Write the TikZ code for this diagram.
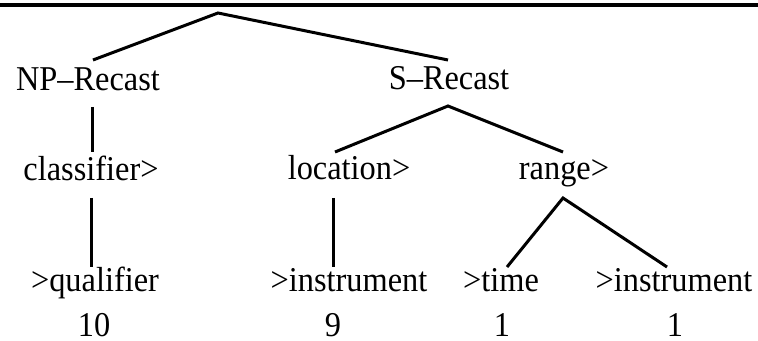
\documentclass[tikz,border=0pt]{standalone}
\usepackage{fontspec}
\setmainfont[FakeStretch=0.93]{Liberation Serif}
\usepackage{tikz}
\usetikzlibrary{positioning}
\tikzset{
  lab/.style={anchor=base,inner sep=0pt,font=\fontsize{17.4}{20}\selectfont},
  count/.style={lab},
  edge/.style={line width=1.5pt,line cap=butt},
  rule/.style={line width=2pt}
}
\begin{document}
\begin{tikzpicture}[x=0.5pt,y=-0.5pt]
  \useasboundingbox (0,0) rectangle (758,341);
  % top rule
  \coordinate (ruleL) at (0,5);
  \coordinate (ruleR) at (758,5);
  \draw[rule] (ruleL)--(ruleR);
  % labels
  \node[lab] (np) at (88,91) {NP--Recast};
  \node[lab] (s) at (449,90) {S--Recast};
  \node[lab] (cls) at (91,181) {classifier>};
  \node[lab] (loc) at (349,180) {location>};
  \node[lab] (rng) at (564,180) {range>};
  \node[lab] (qual) at (95,291) {>qualifier};
  \node[lab] (ins1) at (349,291) {>instrument};
  \node[lab] (time) at (501,291) {>time};
  \node[lab] (ins2) at (674,291) {>instrument};
  \node[count] (n1) at (94,336) {10};
  \node[count] (n2) at (333,336) {9};
  \node[count] (n3) at (502,336) {1};
  \node[count] (n4) at (675,336) {1};
  % branch points
  \coordinate (root) at (218,13);
  \coordinate (npUp) at (93,60);
  \coordinate (sUp) at (448,60);
  \coordinate (npDn) at (92,107);
  \coordinate (sDn) at (448,106);
  \coordinate (clsUp) at (92,152);
  \coordinate (locUp) at (335,152);
  \coordinate (rngUp) at (563,152);
  \coordinate (clsDn) at (91,198);
  \coordinate (locDn) at (333,198);
  \coordinate (rngDn) at (563,198);
  \coordinate (qualUp) at (91,267);
  \coordinate (ins1Up) at (333,267);
  \coordinate (timeUp) at (507,267);
  \coordinate (ins2Up) at (667,267);
  % tree lines
  \draw[edge] (npUp)--(root)--(sUp);
  \draw[edge] (npDn)--(clsUp);
  \draw[edge] (locUp)--(sDn)--(rngUp);
  \draw[edge] (clsDn)--(qualUp);
  \draw[edge] (locDn)--(ins1Up);
  \draw[edge] (timeUp)--(rngDn)--(ins2Up);
\end{tikzpicture}
\end{document}
